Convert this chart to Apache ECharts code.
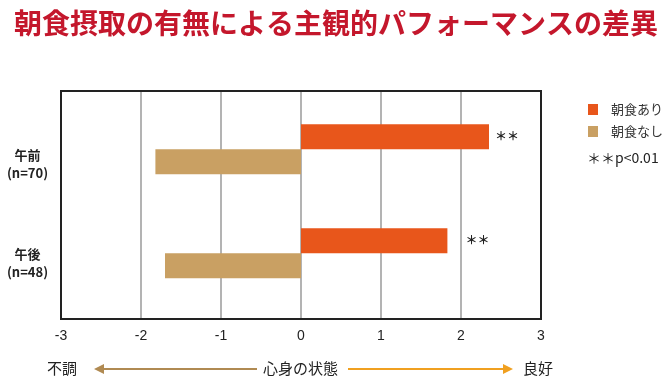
<!DOCTYPE html>
<html><head><meta charset="utf-8">
<script src="https://cdn.jsdelivr.net/npm/echarts@6/dist/echarts.min.js"></script>
<style>html,body{margin:0;padding:0;background:#fff}#c{width:670px;height:383px}</style>
</head><body><div id="c"></div>
<script>
const titleText = '朝食摂取の有無による主観的パフォーマンスの差異';
const categories = ['午前', '午後'];
const categoryNotes = ['(n=70)', '(n=48)'];
const seriesNames = ['朝食あり', '朝食なし'];
const withBreakfast = [2.35, 1.83];
const withoutBreakfast = [-1.82, -1.70];
const significance = ['＊＊', '＊＊'];
const sigNote = '＊＊p<0.01';
const axisMin = -3, axisMax = 3, axisStep = 1;
const bottomLabels = ['不調', '心身の状態', '良好'];

const JP = '"Noto Sans CJK JP", sans-serif';
const LAT = '"Liberation Sans", Arial, sans-serif';
const C_ON = '#e8561b', C_OFF = '#c9a063';
const sigDistance = [6, 18];

const chart = echarts.init(document.getElementById('c'), null, {renderer: 'canvas'});
const gridL = 61, gridW = 480;
chart.setOption({
  animation: false,
  title: {
    text: titleText, left: 9, top: 4,
    textStyle: {fontFamily: JP, fontSize: 28, fontWeight: 'bold', color: '#c4172c'}
  },
  legend: {
    data: seriesNames, orient: 'vertical', left: 583, top: 98,
    icon: 'rect', itemWidth: 10, itemHeight: 11, itemGap: 9,
    textStyle: {fontFamily: JP, fontSize: 13, color: '#333', padding: [0, 0, 0, 8]}
  },
  grid: [
    {left: gridL, top: 91, width: gridW, height: 228, show: true, borderColor: '#222', borderWidth: 2, backgroundColor: 'transparent', z: 5},
    {left: gridL, top: 97.3, width: gridW, height: 208},
    {left: gridL, top: 114.5, width: gridW, height: 198}
  ],
  xAxis: [
    {type: 'value', gridIndex: 0, min: axisMin, max: axisMax, interval: axisStep,
     axisLine: {show: false}, axisTick: {show: false},
     splitLine: {show: true, lineStyle: {color: '#9a9a9a', width: 1.5}},
     axisLabel: {fontFamily: LAT, fontSize: 14, color: '#222', margin: 10}},
    {type: 'value', gridIndex: 1, min: axisMin, max: axisMax, interval: axisStep, show: false},
    {type: 'value', gridIndex: 2, min: axisMin, max: axisMax, interval: axisStep, show: false}
  ],
  yAxis: [
    {type: 'category', gridIndex: 0, data: categories, show: false},
    {type: 'category', gridIndex: 1, data: categories, inverse: true, show: false},
    {type: 'category', gridIndex: 2, data: categories, inverse: true,
     axisLine: {show: false}, axisTick: {show: false}, splitLine: {show: false},
     axisLabel: {
       margin: 33.5, align: 'center',
       formatter: (v, i) => '{a|' + v + '}\n{b|' + categoryNotes[i] + '}',
       rich: {
         a: {fontFamily: JP, fontSize: 13, fontWeight: 'bold', color: '#222', lineHeight: 18, align: 'center'},
         b: {fontFamily: JP, fontSize: 13, fontWeight: 'bold', color: '#222', lineHeight: 18, align: 'center'}
       }
     }}
  ],
  series: [
    {name: seriesNames[0], type: 'bar', xAxisIndex: 1, yAxisIndex: 1, barWidth: 25, barGap: '0%',
     itemStyle: {color: C_ON},
     data: withBreakfast.map((v, i) => ({value: v, label: {distance: sigDistance[i]}})),
     label: {show: true, position: 'right', formatter: p => significance[p.dataIndex],
       fontFamily: JP, fontSize: 12, fontWeight: 'bold', color: '#222'}},
    {name: seriesNames[1], type: 'bar', xAxisIndex: 1, yAxisIndex: 1, barWidth: 25, barGap: '0%',
     itemStyle: {color: C_OFF}, data: withoutBreakfast}
  ],
  graphic: [
    {type: 'text', left: 587, top: 151, style: {text: sigNote, font: '14px ' + JP, fill: '#222'}},
    {type: 'text', left: 47, top: 361, style: {text: bottomLabels[0], font: '15px ' + JP, fill: '#222'}},
    {type: 'text', left: 263, top: 361, style: {text: bottomLabels[1], font: '15px ' + JP, fill: '#222'}},
    {type: 'text', left: 523, top: 361, style: {text: bottomLabels[2], font: '15px ' + JP, fill: '#222'}},
    {type: 'line', shape: {x1: 103, y1: 369, x2: 257, y2: 369}, style: {stroke: '#b08a52', lineWidth: 2}},
    {type: 'polygon', shape: {points: [[94, 369], [104, 364], [104, 374]]}, style: {fill: '#b08a52'}},
    {type: 'line', shape: {x1: 348, y1: 369, x2: 504, y2: 369}, style: {stroke: '#f0a020', lineWidth: 2}},
    {type: 'polygon', shape: {points: [[513, 369], [503, 364], [503, 374]]}, style: {fill: '#f0a020'}}
  ]
});
</script></body></html>
